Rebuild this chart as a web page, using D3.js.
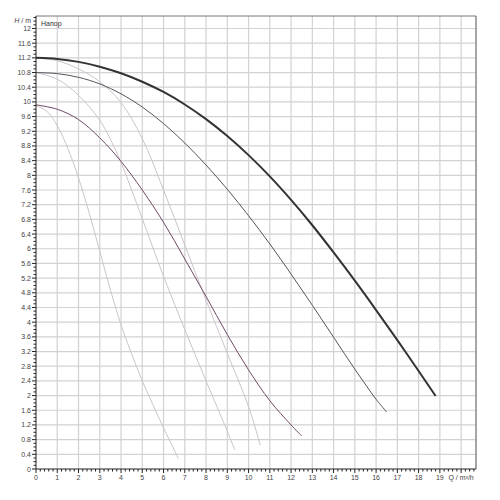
<!DOCTYPE html>
<html><head><meta charset="utf-8">
<script src="https://cdn.jsdelivr.net/npm/d3@7"></script>
<style>html,body{margin:0;padding:0;background:#fff;}svg{display:block;font-family:"Liberation Sans",Arial,sans-serif;}</style>
</head><body><svg id="c" width="500" height="500"></svg>
<script>
// Q / m3/h , H / m
const curveMax = [[0,11.2],[1,11.17],[2,11.09],[3,10.96],[4,10.78],[5,10.55],[6,10.27],[7,9.93],[8,9.53],[9,9.07],[10,8.55],[11,7.97],[12,7.33],[13,6.64],[14,5.9],[15,5.13],[16,4.33],[17,3.51],[18,2.67],[18.8,1.99]];
const curveMid = [[0,10.8],[1,10.77],[2,10.67],[3,10.49],[4,10.22],[5,9.86],[6,9.41],[7,8.88],[8,8.28],[9,7.62],[10,6.9],[11,6.13],[12,5.31],[13,4.46],[14,3.59],[15,2.72],[16,1.9],[16.5,1.55]];
const curveMin = [[0,9.92],[1,9.8],[2,9.52],[3,9.02],[4,8.38],[5,7.6],[6,6.72],[7,5.72],[8,4.7],[9,3.66],[10,2.7],[11,1.86],[12,1.2],[12.5,0.9]];
const lightMax = [[0,11.2],[1,11.12],[2,10.9],[3,10.55],[4,9.98],[5,9.0],[6,7.6],[7,6.1],[8,4.6],[9,3.15],[10,1.7],[10.55,0.65]];
const lightMid = [[0,10.8],[1,10.62],[2,10.18],[3,9.5],[3.5,8.98],[4,8.35],[4.5,7.6],[5,6.82],[6,5.25],[7,3.8],[8,2.4],[9,1.03],[9.35,0.52]];
const lightMin = [[0,9.9],[0.5,9.75],[1,9.35],[1.5,8.73],[2,7.93],[2.5,6.98],[3,5.93],[3.5,4.88],[4,3.93],[4.5,3.13],[5,2.4],[5.5,1.75],[6,1.12],[6.5,0.52],[6.7,0.28]];
const xTicks = d3.range(0,20);
const yTicks = d3.range(0,31).map(i=>+(i*0.4).toFixed(1));
const xLabel = "Q / m³/h";
const yLabel = "H / m";
const title = "Напор";

const svg = d3.select("#c");
const x = d3.scaleLinear().domain([0,20.7]).range([36,476]);
const y = d3.scaleLinear().domain([0,12.34]).range([469,16]);

// grid
const g = svg.append("g");
g.selectAll("line.v").data(d3.range(1,21)).join("line")
 .attr("x1",d=>x(d)).attr("x2",d=>x(d)).attr("y1",y(0)).attr("y2",y(12.34))
 .attr("stroke","#d2d2d2").attr("stroke-width",1.2);
g.selectAll("line.h").data(yTicks.filter(d=>d>0)).join("line")
 .attr("y1",d=>y(d)).attr("y2",d=>y(d)).attr("x1",x(0)).attr("x2",x(20.7))
 .attr("stroke","#d2d2d2").attr("stroke-width",1.2);

// frame top/right
svg.append("line").attr("x1",x(0)).attr("x2",x(20.7)).attr("y1",y(12.34)).attr("y2",y(12.34)).attr("stroke","#777").attr("stroke-width",1);
svg.append("line").attr("x1",x(20.7)).attr("x2",x(20.7)).attr("y1",y(12.34)).attr("y2",y(0)).attr("stroke","#888").attr("stroke-width",1.5);

const line = d3.line().x(d=>x(d[0])).y(d=>y(d[1])).curve(d3.curveCatmullRom);
[lightMin,lightMid,lightMax].forEach(s=>{
  svg.append("path").datum(s).attr("d",line).attr("fill","none").attr("stroke","#cdc3cc").attr("stroke-width",1);
});
svg.append("path").datum(curveMin).attr("d",line).attr("fill","none").attr("stroke","#6e4a66").attr("stroke-width",1);
svg.append("path").datum(curveMid).attr("d",line).attr("fill","none").attr("stroke","#55555f").attr("stroke-width",1);
svg.append("path").datum(curveMax).attr("d",line).attr("fill","none").attr("stroke","#333").attr("stroke-width",2);

// axes
const xAxis = svg.append("g").attr("transform",`translate(0,${y(0)})`);
xAxis.append("line").attr("x1",x(0)).attr("x2",x(20.7)).attr("stroke","#222");
xAxis.selectAll("line.mn").data(d3.range(0,104).map(i=>i*0.2).filter(d=>d<=20.61)).join("line")
 .attr("x1",d=>x(d)).attr("x2",d=>x(d)).attr("y1",0).attr("y2",d=>Math.abs(d-Math.round(d))<1e-6?4:2.5).attr("stroke","#222");
xAxis.selectAll("text").data(xTicks).join("text").attr("x",d=>x(d)).attr("y",11)
 .attr("text-anchor","middle").attr("font-size",7).attr("fill","#444").text(d=>d);
xAxis.append("text").attr("x",x(20)).attr("y",11).attr("text-anchor","middle").attr("font-size",7).attr("fill","#444").text(xLabel);

const yAxis = svg.append("g").attr("transform",`translate(${x(0)},0)`);
yAxis.append("line").attr("y1",y(0)).attr("y2",y(12.34)).attr("stroke","#222");
yAxis.selectAll("line.mn").data(d3.range(0,124).map(i=>i*0.1)).join("line")
 .attr("y1",d=>y(d)).attr("y2",d=>y(d)).attr("x1",0).attr("x2",(d,i)=>i%4===0?-4:-2.5).attr("stroke","#222");
yAxis.selectAll("text").data(yTicks).join("text").attr("x",-5).attr("y",d=>y(d)+2.5)
 .attr("text-anchor","end").attr("font-size",7).attr("fill","#444").text(d=>d);
const yl = yAxis.append("text").attr("x",-5).attr("y",y(12)-5).attr("text-anchor","end").attr("font-size",7).attr("fill","#444");
yl.append("tspan").attr("font-style","italic").text("H");
yl.append("tspan").text(" / m");

svg.append("text").attr("x",x(0)+5).attr("y",y(12)-2).attr("font-size",7).attr("fill","#333").text(title);
</script></body></html>
